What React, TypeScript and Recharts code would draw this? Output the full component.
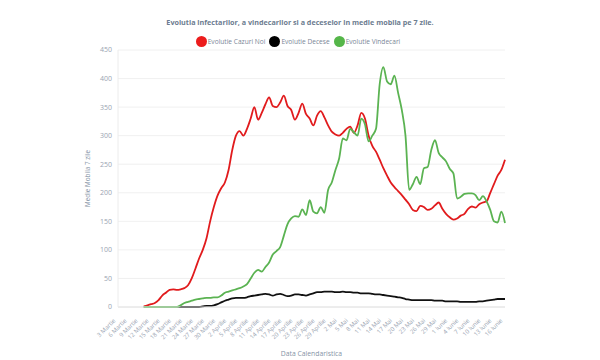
import {
  LineChart,
  Line,
  XAxis,
  YAxis,
  CartesianGrid,
  Legend,
  Label,
} from "recharts";

// Romanian month names and lengths for the calendar axis (3 Martie -> 16 Iunie)
const months = [
  { name: "Martie", first: 3, last: 31 },
  { name: "Aprilie", first: 1, last: 30 },
  { name: "Mai", first: 1, last: 31 },
  { name: "Iunie", first: 1, last: 16 },
];

const days: string[] = [];
months.forEach((m) => {
  for (let d = m.first; d <= m.last; d++) days.push(`${d} ${m.name}`);
});

const _ = null;

// 7-day moving average, new cases
const cazuri = [
  _, _, _, _, _, _, _, 1, 3, 5,
  7, 12, 20, 25, 30, 31, 30, 31, 33, 38,
  50, 67, 85, 100, 120, 150, 175, 195, 208, 218,
  240, 275, 300, 308, 300, 312, 330, 350, 328, 340,
  355, 367, 352, 350, 358, 370, 352, 345, 328, 340,
  356, 338, 330, 318, 335, 343, 332, 318, 307, 302,
  300, 305, 312, 316, 305, 318, 340, 330, 300, 282,
  272, 258, 243, 230, 218, 210, 203, 196, 188, 180,
  170, 168, 177, 175, 170, 172, 178, 183, 172, 163,
  157, 153, 155, 160, 163, 172, 176, 174, 180, 183,
  185, 200, 215, 230, 240, 258,
];

// 7-day moving average, deaths
const decese = [
  _, _, _, _, _, _, _, 0, 0, 0,
  0, 0, 0, 0, 0, 0, 0, 0, 0, 0,
  0, 0, 0, 1, 2, 2, 3, 5, 8, 11,
  13, 15, 16, 16, 16, 17, 19, 20, 21, 22,
  23, 22, 20, 22, 23, 21, 19, 20, 22, 22,
  21, 20, 22, 24, 26, 26, 27, 27, 27, 26,
  26, 27, 26, 26, 25, 25, 24, 24, 24, 23,
  22, 22, 21, 20, 19, 18, 17, 16, 14, 13,
  12, 12, 12, 12, 12, 12, 11, 11, 11, 10,
  10, 10, 10, 9, 9, 9, 9, 9, 10, 10,
  11, 12, 13, 14, 14, 14,
];

// 7-day moving average, recoveries
const vindecari = [
  _, _, _, _, _, _, _, 0, 0, 0,
  0, 0, 0, 0, 0, 0, 0, 3, 7, 9,
  11, 13, 14, 15, 16, 16, 17, 17, 20, 25,
  27, 29, 31, 33, 36, 40, 50, 60, 65, 62,
  70, 78, 92, 98, 105, 125, 145, 155, 159, 158,
  171, 161, 187, 167, 164, 175, 165, 205, 218, 240,
  260, 295, 292, 312, 306, 300, 330, 320, 290, 300,
  312, 390, 420, 395, 390, 405, 375, 345, 300, 205,
  215, 228, 215, 243, 245, 275, 292, 270, 262, 255,
  242, 234, 190, 193, 198, 199, 199, 196, 187, 194,
  185, 170, 150, 148, 167, 147,
];

const yTicks = [0, 50, 100, 150, 200, 250, 300, 350, 400, 450];

const data = days.map((day, i) => ({
  day,
  cazuri: cazuri[i],
  decese: decese[i],
  vindecari: vindecari[i],
}));

const FONT = "'Open Sans', sans-serif";

const legendItems = [
  { label: "Evolutie Cazuri Noi", color: "#ec1c1c" },
  { label: "Evolutie Decese", color: "#000000" },
  { label: "Evolutie Vindecari", color: "#55b649" },
];

const TopLegend = () => (
  <div style={{ fontFamily: FONT, textAlign: "center" }}>
    <div
      style={{
        fontSize: 7.2,
        fontWeight: 700,
        color: "#6c7c90",
        lineHeight: "10px",
        paddingLeft: 0,
      }}
    >
      Evolutia infectarilor, a vindecarilor si a deceselor in medie mobila pe 7
      zile.
    </div>
    <div
      style={{
        marginTop: 9,
        display: "flex",
        justifyContent: "center",
        alignItems: "center",
        fontSize: 6.6,
        color: "#7b8797",
      }}
    >
      {legendItems.map((it) => (
        <span
          key={it.label}
          style={{ display: "inline-flex", alignItems: "center", marginRight: 4 }}
        >
          <span
            style={{
              display: "inline-block",
              width: 11,
              height: 11,
              borderRadius: "50%",
              background: it.color,
              marginRight: 1,
            }}
          />
          {it.label}
        </span>
      ))}
    </div>
  </div>
);

interface TickProps {
  x: number;
  y: number;
  payload: { value: string };
}

const DayTick = (props: TickProps) => {
  const { x, y, payload } = props;
  return (
    <g transform={`translate(${x - 2},${y + 6})`}>
      <text
        transform="rotate(-45)"
        textAnchor="end"
        fontFamily={FONT}
        fontSize={6}
        fill="#9aa4b2"
      >
        {payload.value}
      </text>
    </g>
  );
};

export default function App() {
  return (
    <div style={{ position: "absolute", left: 0, top: 0, background: "#fff" }}>
      <LineChart
        width={600}
        height={360}
        data={data}
        margin={{ top: 50, right: 95, bottom: 0, left: 0 }}
      >
        <CartesianGrid vertical={false} stroke="#ececec" strokeWidth={0.8} />
        <XAxis
          dataKey="day"
          interval={2}
          height={53}
          tick={DayTick}
          tickLine={false}
          axisLine={{ stroke: "#e2e2e2" }}
        >
          <Label
            value="Data Calendaristica"
            position="insideBottom"
            offset={4}
            style={{ fontFamily: FONT, fontSize: 6.8, fill: "#8593a6" }}
          />
        </XAxis>
        <YAxis
          width={118}
          domain={[0, 450]}
          ticks={yTicks}
          tickLine={false}
          tickSize={0}
          tickMargin={6}
          axisLine={{ stroke: "#ececec" }}
          tick={{ fontFamily: FONT, fontSize: 7, fill: "#9aa4b2" }}
        >
          <Label
            value="Medie Mobila 7 zile"
            angle={-90}
            position="insideLeft"
            offset={88}
            style={{
              fontFamily: FONT,
              fontSize: 6.4,
              fill: "#8593a6",
              textAnchor: "middle",
            }}
          />
        </YAxis>
        <Legend
          verticalAlign="middle"
          align="center"
          layout="horizontal"
          wrapperStyle={{ top: 17, left: 0, width: 600 }}
          content={() => <TopLegend />}
        />
        <Line
          type="monotone"
          dataKey="cazuri"
          stroke="#e11b1d"
          strokeWidth={1.8}
          dot={false}
          isAnimationActive={false}
        />
        <Line
          type="monotone"
          dataKey="decese"
          stroke="#111111"
          strokeWidth={1.8}
          dot={false}
          isAnimationActive={false}
        />
        <Line
          type="monotone"
          dataKey="vindecari"
          stroke="#5bb352"
          strokeWidth={1.8}
          dot={false}
          isAnimationActive={false}
        />
      </LineChart>
    </div>
  );
}
